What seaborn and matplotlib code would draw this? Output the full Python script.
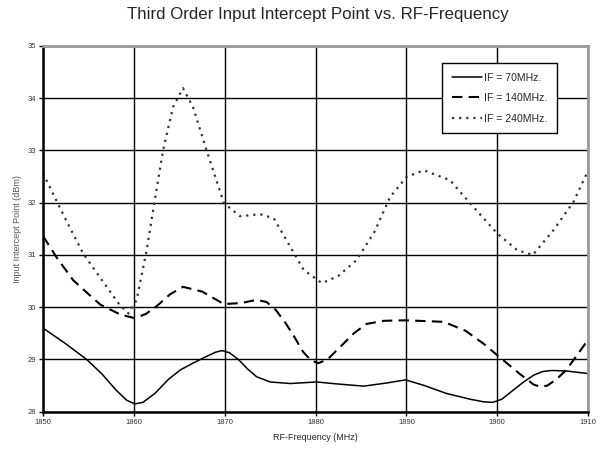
import numpy as np
import pandas as pd
import matplotlib
matplotlib.use("Agg")
import matplotlib.pyplot as plt
import seaborn as sns

sns.set_theme(style="white")
plt.rcParams['font.family'] = ['Liberation Sans', 'DejaVu Sans']

title = "Third Order Input Intercept Point vs. RF-Frequency"
xlabel = "RF-Frequency (MHz)"
ylabel = "Input Intercept Point (dBm)"
series_names = ["IF = 70MHz.", "IF = 140MHz.", "IF = 240MHz."]
x_ticks = [1850, 1860, 1870, 1880, 1890, 1900, 1910]
y_ticks = [28, 29, 30, 31, 32, 33, 34, 35]

if70_f = [1850.0, 1852.5, 1854.8, 1856.5, 1858.0, 1859.2, 1860.1, 1861.0, 1862.3, 1863.8,
          1865.1, 1866.5, 1868.0, 1869.0, 1869.7, 1870.5, 1871.5, 1872.5, 1873.5, 1875.0,
          1877.2, 1880.1, 1882.5, 1885.3, 1887.8, 1889.9, 1892.0, 1894.4, 1897.0, 1898.5,
          1899.5, 1900.5, 1901.5, 1902.9, 1904.0, 1905.0, 1906.0, 1907.6, 1910.0]
if70_v = [29.60, 29.30, 29.00, 28.72, 28.42, 28.22, 28.15, 28.18, 28.35, 28.62,
          28.80, 28.93, 29.06, 29.14, 29.17, 29.13, 29.00, 28.82, 28.67, 28.57,
          28.54, 28.57, 28.53, 28.49, 28.55, 28.61, 28.50, 28.35, 28.24, 28.19,
          28.18, 28.24, 28.38, 28.57, 28.70, 28.77, 28.79, 28.78, 28.73]

if140_f = [1850.0, 1851.5, 1853.3, 1855.0, 1856.3, 1858.5, 1860.1, 1861.3, 1862.5, 1864.0,
           1865.4, 1867.5, 1869.9, 1871.8, 1873.5, 1874.6, 1875.6, 1876.6, 1877.6, 1878.6,
           1879.5, 1880.3, 1881.3, 1882.7, 1884.2, 1885.6, 1887.5, 1889.9, 1894.1, 1896.5,
           1898.5, 1900.0, 1902.5, 1904.0, 1904.7, 1905.5, 1906.5, 1907.6, 1910.0]
if140_v = [31.36, 30.95, 30.52, 30.25, 30.05, 29.86, 29.79, 29.87, 30.02, 30.25,
           30.39, 30.30, 30.06, 30.08, 30.14, 30.10, 29.95, 29.72, 29.45, 29.15,
           28.98, 28.93, 29.00, 29.24, 29.50, 29.68, 29.74, 29.75, 29.72, 29.55,
           29.30, 29.08, 28.72, 28.52, 28.48, 28.50, 28.62, 28.80, 29.38]

if240_f = [1850.0, 1852.4, 1854.4, 1857.0, 1858.4, 1859.4, 1860.3, 1861.4, 1862.2, 1863.2,
           1864.3, 1865.4, 1866.5, 1868.0, 1869.9, 1871.7, 1873.9, 1875.4, 1877.2, 1878.7,
           1880.7, 1882.5, 1884.5, 1886.5, 1888.2, 1890.0, 1891.9, 1894.8, 1897.0, 1900.0,
           1902.2, 1903.9, 1906.2, 1908.4, 1910.0]
if240_v = [32.56, 31.71, 31.03, 30.39, 30.05, 29.88, 30.14, 31.09, 31.95, 33.00,
           33.83, 34.19, 33.83, 33.00, 31.99, 31.74, 31.78, 31.70, 31.16, 30.71,
           30.46, 30.60, 30.90, 31.45, 32.11, 32.49, 32.62, 32.43, 31.99, 31.41,
           31.09, 31.00, 31.48, 32.02, 32.62]

fig = plt.figure(figsize=(6.07, 4.50), dpi=100)
ax = fig.add_axes([0.071, 0.085, 0.898, 0.813])

styles = [
    dict(color="black", linewidth=1.1, linestyle="-"),
    dict(color="black", linewidth=1.5, linestyle=(0, (5, 3))),
    dict(color="#333333", linewidth=1.6, linestyle=(0, (1, 2.2))),
]
for name, f, v, st in zip(series_names, [if70_f, if140_f, if240_f],
                          [if70_v, if140_v, if240_v], styles):
    df = pd.DataFrame({"f": f, "v": v})
    sns.lineplot(data=df, x="f", y="v", ax=ax, label=name, **st)

ax.set_xlim(1850, 1910)
ax.set_ylim(28, 35)
ax.set_xticks(x_ticks)
ax.set_yticks(y_ticks)
ax.set_xticklabels([str(t) for t in x_ticks], fontsize=5.5, color="#333333")
ax.set_yticklabels([str(t) for t in y_ticks], fontsize=5.5, color="#333333")
ax.grid(True, color="black", linewidth=1.0)
ax.set_axisbelow(True)
ax.tick_params(axis="both", direction="out", length=3, width=1, color="black",
               pad=2, left=True, bottom=True)

for s in ["left", "bottom"]:
    ax.spines[s].set_color("black")
    ax.spines[s].set_linewidth(1.8)
for s in ["top", "right"]:
    ax.spines[s].set_color("#9a9a9a")
    ax.spines[s].set_linewidth(2.0)

ax.set_xlabel(xlabel, fontsize=6.5, labelpad=5)
ax.set_ylabel(ylabel, fontsize=6.5, color="#555555", labelpad=4)

fig.text(0.524, 1 - 14 / 450, title, ha="center", va="center", fontsize=12.2)

leg = ax.legend(loc="upper left", bbox_to_anchor=(0.732, 0.953), fontsize=7.6,
                frameon=True, fancybox=False, shadow=False, borderpad=0.9,
                handlelength=2.9, handletextpad=0.15, labelspacing=1.0,
                borderaxespad=0)
leg.get_frame().set_edgecolor("black")
leg.get_frame().set_linewidth(1.0)
leg.get_frame().set_alpha(1)

fig.savefig("out.png", dpi=100)
